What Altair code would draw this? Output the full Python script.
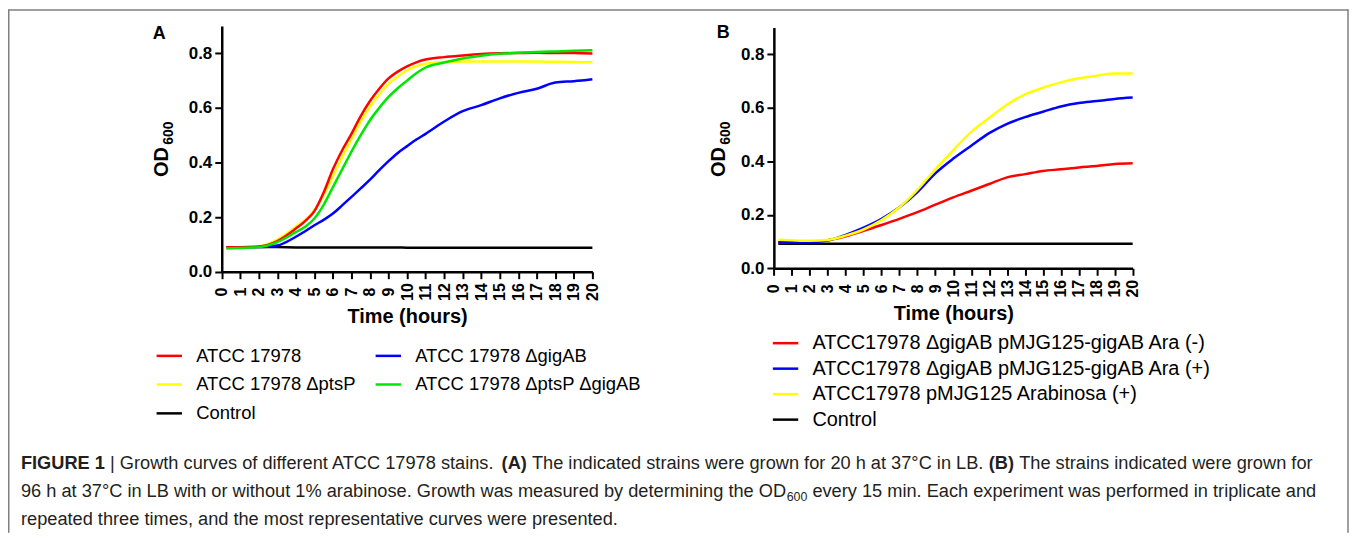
import altair as alt
import pandas as pd

FONT = "Liberation Sans"
W, H = 1347, 526

# ---------------- Panel A data ----------------
time_a = [0.25, 1, 2, 3, 4, 4.5, 5, 5.5, 6, 6.5, 7, 7.5, 8, 8.5, 9, 9.5, 10, 10.5, 11,
          12, 13, 14, 15, 16, 17, 18, 19, 20]
wt_a = [0.090, 0.090, 0.092, 0.112, 0.158, 0.185, 0.222, 0.290, 0.375, 0.445, 0.505, 0.570,
        0.625, 0.670, 0.708, 0.733, 0.752, 0.767, 0.777, 0.786, 0.792, 0.797, 0.800, 0.801,
        0.802, 0.801, 0.801, 0.799]
pts_a = [0.088, 0.090, 0.093, 0.118, 0.165, 0.190, 0.225, 0.280, 0.350, 0.420, 0.485, 0.550,
         0.605, 0.650, 0.688, 0.715, 0.738, 0.753, 0.762, 0.768, 0.770, 0.770, 0.770, 0.770,
         0.770, 0.769, 0.768, 0.767]
ptsgig_a = [0.085, 0.087, 0.090, 0.108, 0.145, 0.165, 0.195, 0.245, 0.310, 0.375, 0.440, 0.500,
            0.555, 0.600, 0.640, 0.672, 0.700, 0.727, 0.748, 0.766, 0.781, 0.791, 0.798, 0.802,
            0.805, 0.807, 0.809, 0.811]
gig_a = [0.090, 0.090, 0.090, 0.096, 0.128, 0.148, 0.170, 0.190, 0.213, 0.243, 0.274, 0.305,
         0.337, 0.372, 0.405, 0.435, 0.460, 0.484, 0.505, 0.550, 0.588, 0.610, 0.635, 0.655,
         0.670, 0.693, 0.698, 0.705]
ctrl_a = [0.090, 0.090, 0.090, 0.090, 0.089, 0.089, 0.089, 0.089, 0.089, 0.089, 0.089, 0.089,
          0.089, 0.089, 0.089, 0.089, 0.088, 0.088, 0.088, 0.088, 0.088, 0.088, 0.088, 0.088,
          0.088, 0.088, 0.088, 0.088]

# legend order (filled column by column): col 1 = red, yellow, black; col 2 = blue, green
series_a = ["ATCC 17978", "ATCC 17978 ΔptsP", "Control",
            "ATCC 17978 ΔgigAB", "ATCC 17978 ΔptsP ΔgigAB"]
colors_a = ["#ff0000", "#ffff00", "#000000", "#0000ff", "#00e600"]

# ---------------- Panel B data ----------------
time_b = [0.25, 1, 2, 3, 4, 5, 6, 7, 8, 9, 10, 11, 12, 13, 14, 15, 16, 17, 18, 19, 20]
b_minus = [0.097, 0.098, 0.099, 0.105, 0.120, 0.140, 0.162, 0.185, 0.210, 0.238, 0.265,
           0.290, 0.315, 0.340, 0.352, 0.364, 0.370, 0.377, 0.382, 0.390, 0.393]
b_plus = [0.097, 0.097, 0.098, 0.104, 0.125, 0.152, 0.185, 0.228, 0.285, 0.355, 0.410,
          0.458, 0.505, 0.540, 0.565, 0.585, 0.605, 0.618, 0.625, 0.633, 0.638]
b_vec = [0.107, 0.105, 0.103, 0.106, 0.122, 0.145, 0.180, 0.228, 0.293, 0.370, 0.442,
         0.510, 0.562, 0.612, 0.650, 0.675, 0.695, 0.710, 0.720, 0.728, 0.728]
b_ctrl = [0.092, 0.092, 0.092, 0.092, 0.092, 0.092, 0.092, 0.092, 0.092, 0.092, 0.092,
          0.092, 0.092, 0.092, 0.092, 0.092, 0.092, 0.092, 0.092, 0.092, 0.092]

series_b = ["ATCC17978 ΔgigAB pMJG125-gigAB Ara (-)",
            "ATCC17978 ΔgigAB pMJG125-gigAB Ara (+)",
            "ATCC17978 pMJG125 Arabinosa (+)",
            "Control"]
colors_b = ["#ff0000", "#0000ff", "#ffff00", "#000000"]

hour_ticks = list(range(0, 21))
od_ticks = [0.0, 0.2, 0.4, 0.6, 0.8]

# long tables (draw order: control first)
rows_a = []
for name, vals in [("Control", ctrl_a), ("ATCC 17978 ΔgigAB", gig_a),
                   ("ATCC 17978 ΔptsP", pts_a), ("ATCC 17978", wt_a),
                   ("ATCC 17978 ΔptsP ΔgigAB", ptsgig_a)]:
    for t, v in zip(time_a, vals):
        rows_a.append({"t": t, "od": v, "strain": name})
df_a = pd.DataFrame(rows_a)

rows_b = []
for name, vals in [("Control", b_ctrl), (series_b[0], b_minus),
                   (series_b[1], b_plus), (series_b[2], b_vec)]:
    for t, v in zip(time_b, vals):
        rows_b.append({"t": t, "od": v, "strain": name})
df_b = pd.DataFrame(rows_b)

# ---------------- layout (pixels inside the chart) ----------------
AX0, AX1, AY0, AY1 = 214.7, 587.0, 263.7, 16.9
BX0, BX1, BY0, BY1 = 769.3, 1129.7, 260.3, 18.4


def x_axis(offset, title_x):
    return alt.Axis(orient="bottom", offset=offset, values=hour_ticks, format="d",
                    labelAngle=270, labelAlign="center", labelBaseline="middle",
                    labelPadding=13, tickSize=7, tickWidth=2, tickColor="black",
                    domainColor="black", domainWidth=2.5, labelFont=FONT,
                    labelFontSize=16, labelFontWeight="bold", labelColor="black",
                    labelOverlap=False, labelFlush=False, grid=False,
                    title="Time (hours)", titleFont=FONT, titleFontSize=20,
                    titleFontWeight="bold", titleColor="black", titleX=title_x,
                    titleY=45, titleAlign="center", titleBaseline="middle")


def y_axis(offset):
    return alt.Axis(orient="left", offset=offset, values=od_ticks, format=".1f",
                    tickSize=7, tickWidth=2, tickColor="black", domainColor="black",
                    domainWidth=2.5, labelPadding=3, labelFont=FONT, labelFontSize=17,
                    labelFontWeight="bold", labelColor="black", grid=False, title=None)


def legend(x, y, cols, row_pad, size, col_pad):
    return alt.Legend(orient="none", legendX=x, legendY=y, columns=cols, title=None,
                      symbolType="stroke", symbolSize=650, symbolStrokeWidth=2.5,
                      labelFont=FONT, labelFontSize=size, labelColor="black",
                      labelLimit=500, rowPadding=row_pad, columnPadding=col_pad,
                      labelOffset=13)


lines_a = alt.Chart(df_a).mark_line(strokeWidth=2.5, interpolate="monotone").encode(
    x=alt.X("t:Q", scale=alt.Scale(domain=[0, 20], range=[AX0, AX1], nice=False, zero=False),
            axis=x_axis(AY0 - H, (AX0 + AX1) / 2)),
    y=alt.Y("od:Q", scale=alt.Scale(domain=[0, 0.9], range=[AY0, AY1], nice=False),
            axis=y_axis(-AX0)),
    color=alt.Color("strain:N", scale=alt.Scale(domain=series_a, range=colors_a),
                    legend=legend(148, 334, 2, 5, 18.5, 14)),
)

lines_b = alt.Chart(df_b).mark_line(strokeWidth=2.5, interpolate="monotone").encode(
    x=alt.X("t:Q", scale=alt.Scale(domain=[0, 20], range=[BX0, BX1], nice=False, zero=False),
            axis=x_axis(BY0 - H, (BX0 + BX1) / 2)),
    y=alt.Y("od:Q", scale=alt.Scale(domain=[0, 0.9], range=[BY0, BY1], nice=False),
            axis=y_axis(-BX0)),
    color=alt.Color("strain:N", scale=alt.Scale(domain=series_b, range=colors_b),
                    legend=legend(767, 321.5, 1, 1.6, 20, 22)),
)

one = pd.DataFrame([{"k": 0}])


def txt(text, x, y, size, bold=False, angle=0, align="left", baseline="alphabetic",
        color="black"):
    kw = dict(text=text, font=FONT, fontSize=size, fontWeight="bold" if bold else "normal",
              align=align, baseline=baseline, color=color)
    if angle:
        kw["angle"] = angle
    return alt.Chart(one).mark_text(**kw).encode(x=alt.value(x), y=alt.value(y))


def rule(x, y, x2=None, y2=None):
    enc = dict(x=alt.value(x), y=alt.value(y))
    if x2 is not None:
        enc["x2"] = alt.value(x2)
    if y2 is not None:
        enc["y2"] = alt.value(y2)
    return alt.Chart(one).mark_rule(color="#7f7f7f", strokeWidth=1.5).encode(**enc)


annot = [
    txt("A", 152, 24.5, 18, bold=True, align="center", baseline="middle"),
    txt("B", 718.5, 23.5, 18, bold=True, align="center", baseline="middle"),
    txt("OD", 154.5, 153.6, 20, bold=True, angle=270, align="center", baseline="middle"),
    txt("600", 161.5, 124.5, 14, bold=True, angle=270, align="center", baseline="middle"),
    txt("OD", 714.5, 153.5, 20, bold=True, angle=270, align="center", baseline="middle"),
    txt("600", 721.5, 124.5, 14, bold=True, angle=270, align="center", baseline="middle"),
    rule(0.75, 0.75, x2=W - 0.75),
    rule(0.75, 0, y2=H),
    rule(W - 1.0, 0, y2=H),
]

# ---------------- caption ----------------
REG = {" ": 278, "!": 278, "%": 889, "(": 333, ")": 333, ",": 278, "-": 333, ".": 278,
       "|": 260, "°": 400, "A": 667, "B": 667, "C": 722, "D": 722, "E": 667, "F": 611,
       "G": 778, "H": 722, "I": 278, "L": 556, "M": 833, "N": 722, "O": 778, "P": 667,
       "R": 722, "S": 667, "T": 611, "U": 722,
       "a": 556, "b": 556, "c": 500, "d": 556, "e": 556, "f": 278, "g": 556, "h": 556,
       "i": 222, "j": 222, "k": 500, "l": 222, "m": 833, "n": 556, "o": 556, "p": 556,
       "q": 556, "r": 333, "s": 500, "t": 278, "u": 556, "v": 500, "w": 722, "x": 500,
       "y": 500, "z": 500}
BOLD = {" ": 278, "(": 333, ")": 333, "A": 722, "B": 722, "E": 667, "F": 611, "G": 778,
        "I": 278, "R": 722, "U": 722}


def tw(s, size, bold=False):
    tbl = BOLD if bold else REG
    return sum(tbl.get(c, 556) for c in s) * size / 1000.0


CAP = 18.3
CAPC = "#231f20"
cap_lines = [
    [("FIGURE 1", "b"), (" | Growth curves of different ATCC 17978 stains. ", "r"), ("(A)", "b"),
     (" The indicated strains were grown for 20 h at 37°C in LB. ", "r"), ("(B)", "b"),
     (" The strains indicated were grown for", "r")],
    [("96 h at 37°C in LB with or without 1% arabinose. Growth was measured by determining the OD", "r"),
     ("600", "s"), (" every 15 min. Each experiment was performed in triplicate and", "r")],
    [("repeated three times, and the most representative curves were presented.", "r")],
]
cap_base = [461.5, 490.0, 518.0]
cap_layers = []
for line, yb in zip(cap_lines, cap_base):
    x = 13.0
    for seg, kind in line:
        size = CAP if kind != "s" else CAP * 0.68
        bold = kind == "b"
        lead = len(seg) - len(seg.lstrip(" "))
        x += tw(" " * lead, size)
        core = seg.strip(" ")
        cap_layers.append(txt(core, x, yb + (4.5 if kind == "s" else 0), size, bold=bold,
                              color=CAPC))
        x += tw(core, size, bold)
        trail = len(seg) - len(seg.rstrip(" "))
        x += tw(" " * trail, CAP)

chart = alt.layer(lines_a, lines_b, *annot, *cap_layers).resolve_scale(
    x="independent", y="independent", color="independent"
).resolve_axis(x="independent", y="independent").resolve_legend(color="independent").properties(
    width=W, height=H, padding=0, autosize=alt.AutoSizeParams(type="none"),
    background="white"
).configure_view(stroke=None)

chart.save("out.html", embed_options={"renderer": "svg", "actions": False})
